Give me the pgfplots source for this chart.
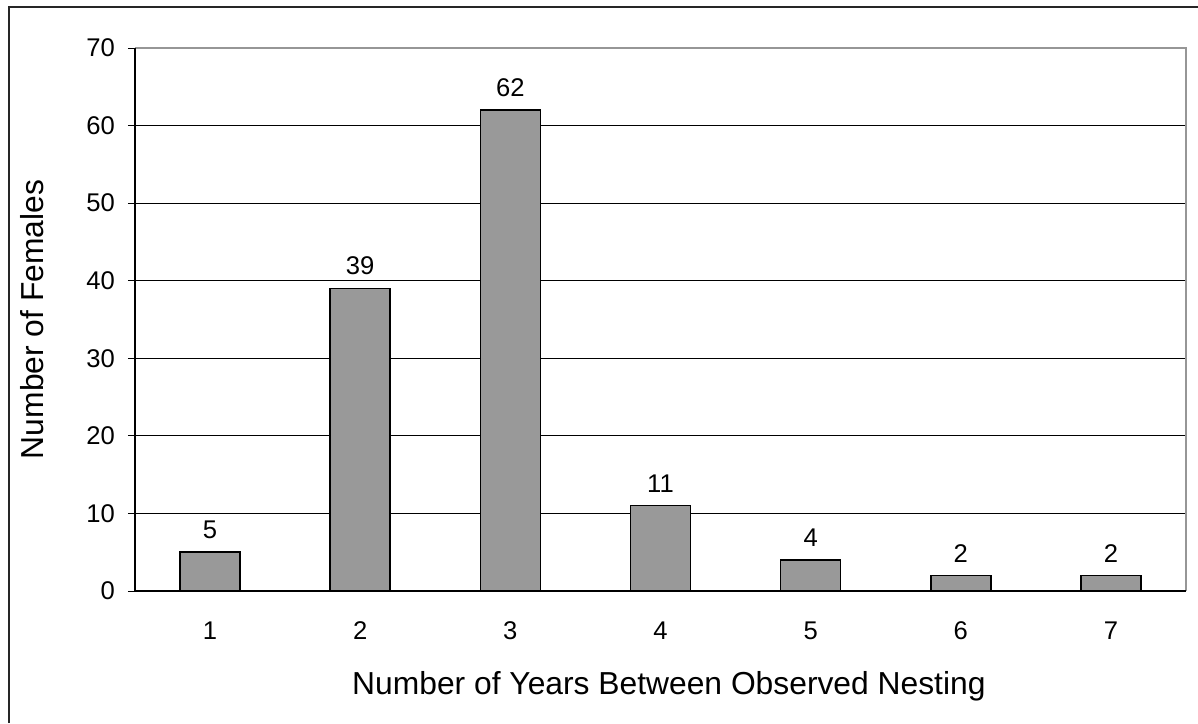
\documentclass[border=0pt]{standalone}
\usepackage{fontspec}
\setmainfont{Liberation Sans}
\usepackage{pgfplots}
\pgfplotsset{compat=1.18}
\definecolor{barfill}{RGB}{153,153,153}
\definecolor{frameg}{RGB}{150,150,150}
\begin{document}
\begin{tikzpicture}
\path[use as bounding box] (0,0) rectangle (599pt,361.5pt);
\draw[line width=1pt, black!85] (4.5pt,0) -- (4.5pt,358pt) -- (599pt,358pt);
\begin{axis}[
  at={(67.5pt,66pt)}, anchor=south west,
  scale only axis, width=525.5pt, height=271.5pt,
  xmin=0.5, xmax=7.5, ymin=0, ymax=70,
  xtick={1,...,7},
  minor xtick={0.5,1.5,...,7.5},
  x tick style={draw=none},
  minor x tick style={black, line width=0.5pt},
  ytick={0,10,...,70},
  y tick style={black, line width=0.5pt},
  tick align=outside,
  major tick length=3.5pt, minor tick length=3.5pt,
  xtick pos=bottom, ytick pos=left,
  ymajorgrids, grid style={black, line width=0.5pt},
  axis line style={draw=none},
  /pgf/number format/assume math mode=true,
  tick label style={font=\fontsize{12.8}{15}\selectfont, text=black},
  xticklabel style={yshift=-8.5pt},
  yticklabel style={xshift=-3pt},
  xlabel={Number of Years Between Observed Nesting},
  ylabel={Number of Females},
  label style={font=\fontsize{15.9}{19}\selectfont},
  xlabel style={at={(axis description cs:0.508,-0.175)}, anchor=center},
  ylabel style={at={(axis description cs:-0.098,0.5)}, anchor=center},
  nodes near coords,
  every node near coord/.append style={font=\fontsize{12.8}{15}\selectfont, text=black, yshift=3pt},
  after end axis/.code={
    \draw[frameg, line width=1pt] (rel axis cs:0,1) -- (rel axis cs:1,1) -- (rel axis cs:1,0);
    \draw[black, line width=0.6pt] (rel axis cs:0,1) -- (rel axis cs:0,0) -- (rel axis cs:1,0);
  },
]
\addplot[ybar, bar width=30pt, fill=barfill, draw=black, line width=0.8pt]
  coordinates {(1,5) (2,39) (3,62) (4,11) (5,4) (6,2) (7,2)};
\end{axis}
\end{tikzpicture}
\end{document}
